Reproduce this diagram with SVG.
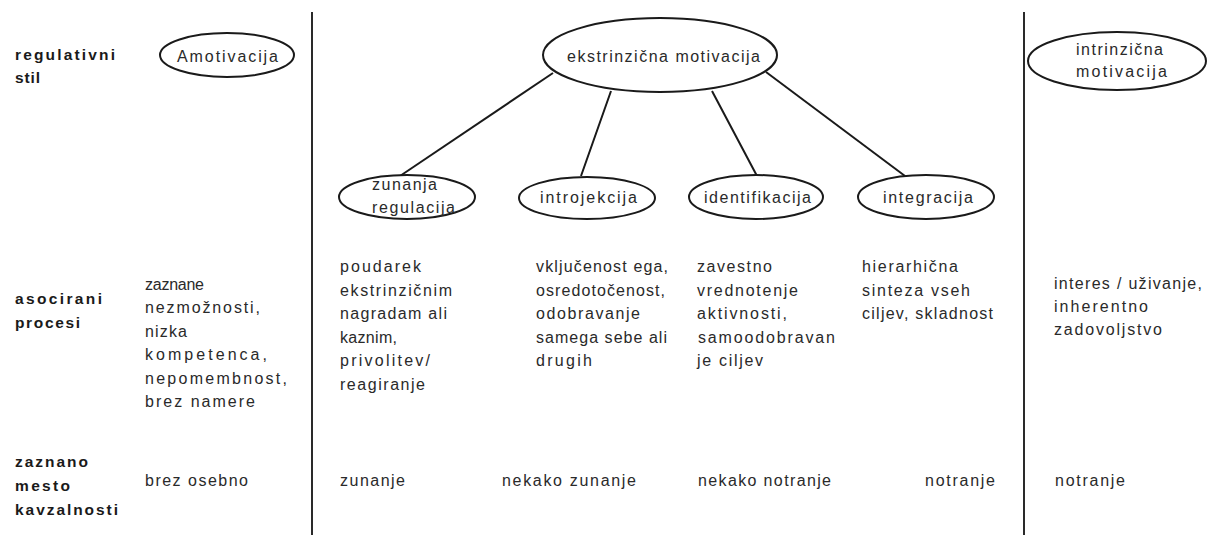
<svg xmlns="http://www.w3.org/2000/svg" width="1211" height="535" viewBox="0 0 1211 535">
<style>
  .bg{fill:#ffffff}
  .t{font-family:"Liberation Sans",Arial,sans-serif;font-size:16px;fill:#2a2a2a}
  .b{font-family:"Liberation Sans",Arial,sans-serif;font-size:15.5px;font-weight:bold;fill:#1a1a1a}
  .node{fill:#ffffff;stroke:#1a1a1a;stroke-width:2}
  .edge{stroke:#1a1a1a;stroke-width:2;fill:none}
  .divider{stroke:#2a2a2a;stroke-width:2}
</style>
<rect class="bg" x="0" y="0" width="1211" height="535"/>

<g id="dividers">
  <line class="divider" x1="312" y1="12" x2="312" y2="535"/>
  <line class="divider" x1="1024" y1="12" x2="1024" y2="535"/>
</g>

<g id="row-labels">
  <text class="b" x="15" y="60" textLength="100" lengthAdjust="spacing">regulativni</text>
  <text class="b" x="15" y="83" textLength="25" lengthAdjust="spacing">stil</text>
  <text class="b" x="15" y="304" textLength="87" lengthAdjust="spacing">asocirani</text>
  <text class="b" x="15" y="328" textLength="65" lengthAdjust="spacing">procesi</text>
  <text class="b" x="15" y="467" textLength="73" lengthAdjust="spacing">zaznano</text>
  <text class="b" x="15" y="491" textLength="55" lengthAdjust="spacing">mesto</text>
  <text class="b" x="15" y="515" textLength="103" lengthAdjust="spacing">kavzalnosti</text>
</g>

<g id="connectors">
  <line class="edge" x1="553" y1="73" x2="400" y2="176"/>
  <line class="edge" x1="611" y1="91" x2="581" y2="176"/>
  <line class="edge" x1="712" y1="91" x2="757" y2="176"/>
  <line class="edge" x1="766" y1="72" x2="905" y2="176"/>
</g>

<g id="amotivacija">
  <ellipse class="node" cx="227" cy="55" rx="67" ry="22"/>
  <text class="t" x="177" y="62" textLength="101" lengthAdjust="spacing">Amotivacija</text>
</g>

<g id="ekstrinzicna-motivacija">
  <ellipse class="node" cx="660" cy="55" rx="117" ry="37"/>
  <text class="t" x="567" y="62" textLength="193" lengthAdjust="spacing">ekstrinzična motivacija</text>
</g>

<g id="intrinzicna-motivacija">
  <ellipse class="node" cx="1117" cy="61" rx="89" ry="29"/>
  <text class="t" x="1076" y="55" textLength="87" lengthAdjust="spacing">intrinzična</text>
  <text class="t" x="1076" y="77" textLength="91" lengthAdjust="spacing">motivacija</text>
</g>

<g id="zunanja-regulacija">
  <ellipse class="node" cx="407" cy="197" rx="68" ry="22"/>
  <text class="t" x="372" y="190" textLength="65" lengthAdjust="spacing">zunanja</text>
  <text class="t" x="372" y="213" textLength="83" lengthAdjust="spacing">regulacija</text>
</g>

<g id="introjekcija">
  <ellipse class="node" cx="587" cy="198" rx="68" ry="21"/>
  <text class="t" x="540" y="203" textLength="97" lengthAdjust="spacing">introjekcija</text>
</g>

<g id="identifikacija">
  <ellipse class="node" cx="756" cy="197" rx="67" ry="22"/>
  <text class="t" x="704" y="203" textLength="107" lengthAdjust="spacing">identifikacija</text>
</g>

<g id="integracija">
  <ellipse class="node" cx="926" cy="197" rx="68" ry="22"/>
  <text class="t" x="883" y="203" textLength="90" lengthAdjust="spacing">integracija</text>
</g>

<g id="procesi-amotivacija">
  <text class="t" x="145" y="290" textLength="59" lengthAdjust="spacing">zaznane</text>
  <text class="t" x="145" y="313" textLength="115" lengthAdjust="spacing">nezmožnosti,</text>
  <text class="t" x="145" y="337" textLength="42" lengthAdjust="spacing">nizka</text>
  <text class="t" x="145" y="360" textLength="122" lengthAdjust="spacing">kompetenca,</text>
  <text class="t" x="145" y="384" textLength="142" lengthAdjust="spacing">nepomembnost,</text>
  <text class="t" x="145" y="407" textLength="110" lengthAdjust="spacing">brez namere</text>
</g>

<g id="procesi-zunanja">
  <text class="t" x="340" y="272" textLength="81" lengthAdjust="spacing">poudarek</text>
  <text class="t" x="340" y="296" textLength="112" lengthAdjust="spacing">ekstrinzičnim</text>
  <text class="t" x="340" y="319" textLength="107" lengthAdjust="spacing">nagradam ali</text>
  <text class="t" x="340" y="343" textLength="57" lengthAdjust="spacing">kaznim,</text>
  <text class="t" x="340" y="366" textLength="90" lengthAdjust="spacing">privolitev/</text>
  <text class="t" x="340" y="390" textLength="85" lengthAdjust="spacing">reagiranje</text>
</g>

<g id="procesi-introjekcija">
  <text class="t" x="536" y="272" textLength="132" lengthAdjust="spacing">vključenost ega,</text>
  <text class="t" x="536" y="296" textLength="129" lengthAdjust="spacing">osredotočenost,</text>
  <text class="t" x="536" y="319" textLength="104" lengthAdjust="spacing">odobravanje</text>
  <text class="t" x="536" y="343" textLength="131" lengthAdjust="spacing">samega sebe ali</text>
  <text class="t" x="536" y="366" textLength="56" lengthAdjust="spacing">drugih</text>
</g>

<g id="procesi-identifikacija">
  <text class="t" x="697" y="272" textLength="75" lengthAdjust="spacing">zavestno</text>
  <text class="t" x="697" y="296" textLength="101" lengthAdjust="spacing">vrednotenje</text>
  <text class="t" x="697" y="319" textLength="90" lengthAdjust="spacing">aktivnosti,</text>
  <text class="t" x="698" y="343" textLength="137" lengthAdjust="spacing">samoodobravan</text>
  <text class="t" x="697" y="366" textLength="66" lengthAdjust="spacing">je ciljev</text>
</g>

<g id="procesi-integracija">
  <text class="t" x="862" y="272" textLength="96" lengthAdjust="spacing">hierarhična</text>
  <text class="t" x="862" y="296" textLength="108" lengthAdjust="spacing">sinteza vseh</text>
  <text class="t" x="862" y="319" textLength="131" lengthAdjust="spacing">ciljev, skladnost</text>
</g>

<g id="procesi-intrinzicna">
  <text class="t" x="1054" y="289" textLength="148" lengthAdjust="spacing">interes / uživanje,</text>
  <text class="t" x="1054" y="312" textLength="94" lengthAdjust="spacing">inherentno</text>
  <text class="t" x="1054" y="335" textLength="108" lengthAdjust="spacing">zadovoljstvo</text>
</g>

<g id="kavzalnost">
  <text class="t" x="145" y="486" textLength="103" lengthAdjust="spacing">brez osebno</text>
  <text class="t" x="340" y="486" textLength="65" lengthAdjust="spacing">zunanje</text>
  <text class="t" x="502" y="486" textLength="134" lengthAdjust="spacing">nekako zunanje</text>
  <text class="t" x="698" y="486" textLength="133" lengthAdjust="spacing">nekako notranje</text>
  <text class="t" x="925" y="486" textLength="70" lengthAdjust="spacing">notranje</text>
  <text class="t" x="1055" y="486" textLength="70" lengthAdjust="spacing">notranje</text>
</g>
</svg>
